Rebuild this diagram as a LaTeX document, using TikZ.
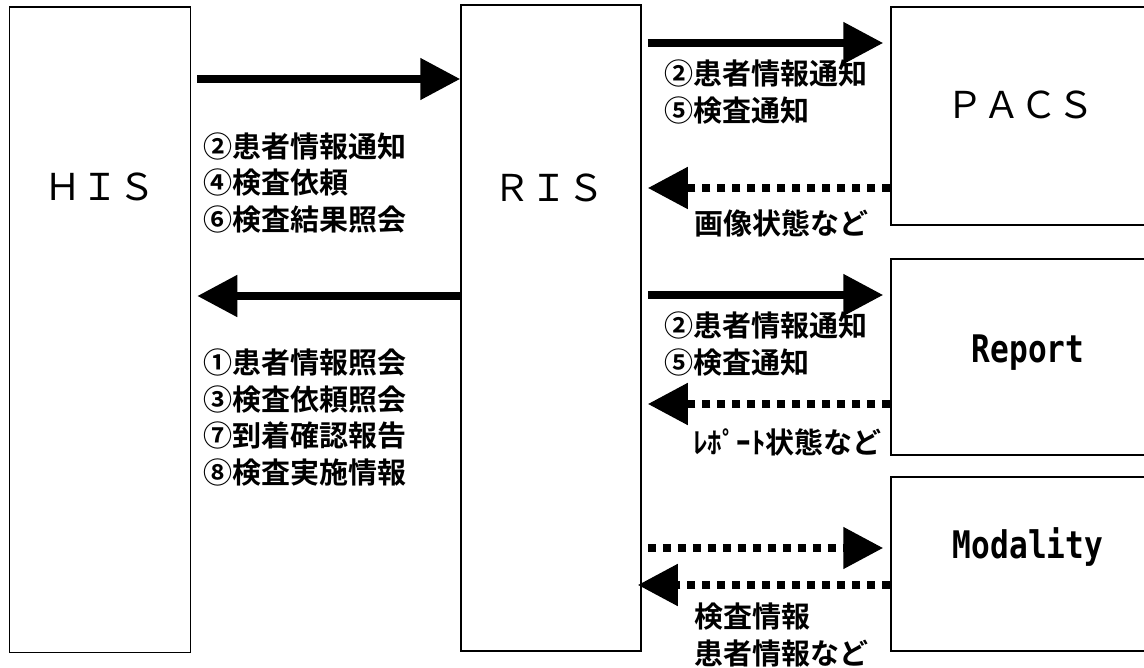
\documentclass[tikz,border=0pt]{standalone}
\usepackage{fontspec}
\setmainfont{Noto Sans CJK JP}[BoldFont={Noto Sans CJK JP Bold}]
\newfontfamily\condfont[FakeStretch=0.82]{DejaVu Sans Mono}
\usetikzlibrary{arrows.meta,calc}

\tikzset{
  sysbox/.style={draw, line width=1.5pt, inner sep=0pt},
  systext/.style={font=\fontsize{37}{37}\selectfont, inner sep=0pt},
  devtext/.style={font=\condfont\bfseries\fontsize{38}{38}\selectfont, inner sep=0pt},
  msg/.style={font=\bfseries\fontsize{29}{36.5}\selectfont, align=left, anchor=west, inner sep=0pt},
  bigarrow/.style={line width=8pt, -{Triangle[length=40pt,width=40pt]}},
  dotarrow/.style={bigarrow, dash pattern=on 8pt off 7pt},
}

\begin{document}
\begin{tikzpicture}[x=1pt,y=-1pt]
\useasboundingbox (0,0) rectangle (1144,668);
%the system boxes
\node [sysbox, minimum width=181pt, minimum height=645.5pt] (his) at (100,329.75) {};
\node [sysbox, minimum width=180pt, minimum height=646pt] (ris) at (551,328) {};
\node [sysbox, minimum width=269pt, minimum height=218pt] (pacs) at (1025.5,116) {};
\node [sysbox, minimum width=269pt, minimum height=196pt] (report) at (1025.5,357) {};
\node [sysbox, minimum width=269pt, minimum height=174pt] (modality) at (1025.5,564) {};
%names in the boxes
\node [systext] (histext) at (100,187) {ＨＩＳ};
\node [systext] (ristext) at (549,188) {ＲＩＳ};
\node [systext] (pacstext) at (1020,105) {ＰＡＣＳ};
\node [devtext] (reporttext) at (1028,353) {Report};
\node [devtext] (modalitytext) at (1028,547) {Modality};
%messages
\node [msg] (tohis) at (203,183) {②患者情報通知\\④検査依頼\\⑥検査結果照会};
\node [msg] (fromhis) at (203,417.5) {①患者情報照会\\③検査依頼照会\\⑦到着確認報告\\⑧検査実施情報};
\node [msg] (topacs) at (664,92) {②患者情報通知\\⑤検査通知};
\node [msg] (frompacs) at (694,223) {画像状態など};
\node [msg] (toreport) at (664,344) {②患者情報通知\\⑤検査通知};
\node [msg] (fromreport) at (693,442) {ﾚﾎﾟｰﾄ状態など};
\node [msg] (frommodality) at (694,635) {検査情報\\患者情報など};
%the arrows
\draw[bigarrow] ($(his.east |- 0,79)+(6,0)$) -- (ris.west |- 0,79);
\draw[bigarrow] (ris.west |- 0,296) -- ($(his.east |- 0,296)+(6,0)$);
\draw[bigarrow] ($(ris.east |- 0,43)+(6,0)$) -- ($(pacs.west |- 0,43)+(-7,0)$);
\draw[dotarrow] (pacs.west |- 0,188) -- ($(ris.east |- 0,188)+(6,0)$);
\draw[bigarrow] ($(ris.east |- 0,295)+(6,0)$) -- ($(report.west |- 0,295)+(-7,0)$);
\draw[dotarrow] (report.west |- 0,404) -- ($(ris.east |- 0,404)+(6,0)$);
\draw[dotarrow] ($(ris.east |- 0,548)+(6,0)$) -- ($(modality.west |- 0,548)+(-7,0)$);
\draw[dotarrow] (modality.west |- 0,585) -- ($(ris.east |- 0,585)+(-4,0)$);
\end{tikzpicture}
\end{document}
